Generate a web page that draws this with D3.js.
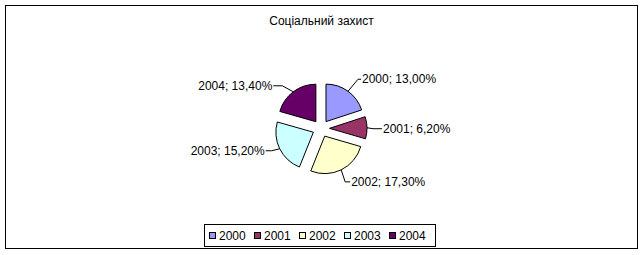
<!DOCTYPE html>
<html>
<head>
<meta charset="utf-8">
<script src="https://cdn.jsdelivr.net/npm/d3@7"></script>
<style>
  html, body { margin: 0; padding: 0; background: #fff; }
  svg { display: block; }
  text { font-family: "Liberation Sans", Arial, sans-serif; font-size: 12px; fill: #000; }
</style>
</head>
<body>
<svg id="chart" width="644" height="255"></svg>
<script>
const title = "Соціальний захист";
const categories = ["2000", "2001", "2002", "2003", "2004"];
const values = [13.0, 6.2, 17.3, 15.2, 13.4];
const colors = ["#9999FF", "#993366", "#FFFFCC", "#CCFFFF", "#660066"];

// leader layout per slice: elbow offset from arc point, horizontal run, side
const leaderElbow = [[10, -12], [6, 1], [4, 12], [-8, 2], [-11, -6]];
const leaderRun = [3, 9, 5, -6, -9];

const W = 644, H = 255;
const svg = d3.select("#chart");

// outer border
svg.append("rect").attr("x", 5.5).attr("y", 5.5).attr("width", 632).attr("height", 243)
  .attr("fill", "#fff").attr("stroke", "#000").attr("stroke-width", 1);

svg.append("text").attr("x", 321.5).attr("y", 25).attr("text-anchor", "middle").text(title);

const cx = 321, cy = 128.5, r = 37.5, explode = 8.5;
const locale = d3.formatLocale({decimal: ",", thousands: " ", grouping: [3], currency: ["", ""]});
const fmt = locale.format(".2f");

const pie = d3.pie().sort(null).value(d => d)(values);
const arc = d3.arc().innerRadius(0).outerRadius(r);

const g = svg.append("g").attr("transform", `translate(${cx},${cy})`);

pie.forEach((p, i) => {
  const mid = (p.startAngle + p.endAngle) / 2;
  const ox = explode * Math.sin(mid), oy = -explode * Math.cos(mid);
  g.append("path").attr("d", arc(p))
    .attr("transform", `translate(${ox},${oy})`)
    .attr("fill", colors[i]).attr("stroke", "#000").attr("stroke-width", 1);

  const px = ox + r * Math.sin(mid), py = oy - r * Math.cos(mid);
  const ex = px + leaderElbow[i][0], ey = py + leaderElbow[i][1];
  const hx = ex + leaderRun[i];
  g.append("polyline")
    .attr("points", `${px},${py} ${ex},${ey} ${hx},${ey}`)
    .attr("fill", "none").attr("stroke", "#000").attr("stroke-width", 1);
  const right = leaderRun[i] > 0;
  g.append("text")
    .attr("x", hx + (right ? 1 : -1)).attr("y", ey + 4)
    .attr("text-anchor", right ? "start" : "end")
    .text(`${categories[i]}; ${fmt(values[i])}%`);
});

// legend
const lx = 204, ly = 224, lw = 231, lh = 22, pitch = 45;
svg.append("rect").attr("x", lx + 0.5).attr("y", ly + 0.5).attr("width", lw).attr("height", lh)
  .attr("fill", "#fff").attr("stroke", "#000");
const lg = svg.append("g");
categories.forEach((c, i) => {
  const x0 = lx + 5 + i * pitch;
  lg.append("rect").attr("x", x0 + 0.5).attr("y", ly + 8.5).attr("width", 6).attr("height", 6)
    .attr("fill", colors[i]).attr("stroke", "#000");
  lg.append("text").attr("x", x0 + 10).attr("y", ly + 16).text(c);
});
</script>
</body>
</html>
